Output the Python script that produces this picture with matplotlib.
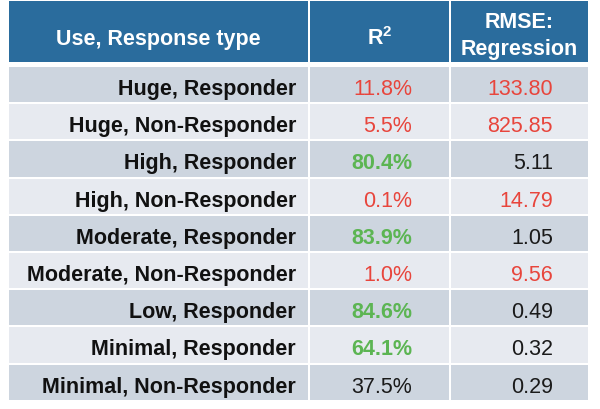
import matplotlib
matplotlib.use("Agg")
import matplotlib.pyplot as plt
from matplotlib.patches import Rectangle

# --- data ---
headers = ["Use, Response type", r"$\mathbf{R^2}$", "RMSE:\nRegression"]
row_labels = [
    "Huge, Responder", "Huge, Non-Responder", "High, Responder",
    "High, Non-Responder", "Moderate, Responder", "Moderate, Non-Responder",
    "Low, Responder", "Minimal, Responder", "Minimal, Non-Responder",
]
r2_values = ["11.8%", "5.5%", "80.4%", "0.1%", "83.9%", "1.0%", "84.6%", "64.1%", "37.5%"]
r2_status = ["bad", "bad", "good", "bad", "good", "bad", "good", "good", "neutral"]
rmse_values = ["133.80", "825.85", "5.11", "14.79", "1.05", "9.56", "0.49", "0.32", "0.29"]
rmse_status = ["bad", "bad", "neutral", "bad", "neutral", "bad", "neutral", "neutral", "neutral"]

STATUS_COLOR = {"bad": "#e8453c", "good": "#5cb553", "neutral": "#1a1a1a"}
STATUS_WEIGHT = {"bad": "normal", "good": "bold", "neutral": "normal"}

HEADER_BG = "#2a6c9d"
ROW_BG = ["#cdd5df", "#e7eaf0"]

plt.rcParams["font.family"] = ["Liberation Sans", "DejaVu Sans"]
plt.rcParams["mathtext.fontset"] = "custom"
plt.rcParams["mathtext.bf"] = "Liberation Sans:bold"
plt.rcParams["mathtext.rm"] = "Liberation Sans"

# --- layout (pixels) ---
col_edges = [8, 309, 450, 589]
header_top, header_bot = 2, 63
header_base, header_lead = 45, 27
row_top, row_h = 67, 37.2
gap = 2.0
FS = 15.5
# right edges of the value columns (values are right-aligned)
value_right = [412, 553]

fig = plt.figure(figsize=(6.0, 4.1), dpi=100)
ax = fig.add_axes([0, 0, 1, 1])
ax.set_xlim(0, 600)
ax.set_ylim(410, 0)
ax.axis("off")

# header
for c in range(3):
    x0, x1 = col_edges[c], col_edges[c + 1]
    ax.add_patch(Rectangle((x0 + gap / 2, header_top), x1 - x0 - gap, header_bot - header_top,
                           facecolor=HEADER_BG, edgecolor="none"))
    lines = headers[c].split("\n")
    n = len(lines)
    mid = header_base - 3.5 * (n - 1)
    for i, line in enumerate(lines):
        ax.text((x0 + x1) / 2, mid + (i - (n - 1) / 2) * header_lead, line,
                ha="center", va="baseline", color="white", fontsize=FS,
                fontweight="bold")

# body
for r, label in enumerate(row_labels):
    y0 = row_top + r * row_h
    for c in range(3):
        x0, x1 = col_edges[c], col_edges[c + 1]
        ax.add_patch(Rectangle((x0 + gap / 2, y0 + gap / 2), x1 - x0 - gap, row_h - gap,
                               facecolor=ROW_BG[r % 2], edgecolor="none"))
    yb = y0 + 28.0
    ax.text(col_edges[1] - 13, yb, label, ha="right", va="baseline",
            fontsize=FS, fontweight="bold", color="#111111")
    ax.text(value_right[0], yb, r2_values[r], ha="right", va="baseline",
            fontsize=FS, color=STATUS_COLOR[r2_status[r]],
            fontweight=STATUS_WEIGHT[r2_status[r]])
    ax.text(value_right[1], yb, rmse_values[r], ha="right", va="baseline",
            fontsize=FS, color=STATUS_COLOR[rmse_status[r]],
            fontweight=STATUS_WEIGHT[rmse_status[r]])

fig.savefig("out.png", dpi=100)
